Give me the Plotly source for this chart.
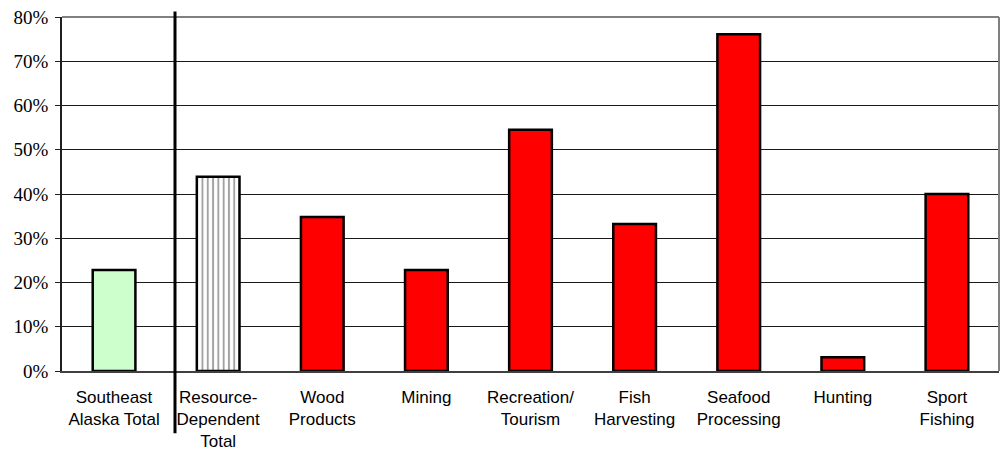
import plotly.graph_objects as go

categories = [
    "Southeast<br>Alaska Total",
    "Resource-<br>Dependent<br>Total",
    "Wood<br>Products",
    "Mining",
    "Recreation/<br>Tourism",
    "Fish<br>Harvesting",
    "Seafood<br>Processing",
    "Hunting",
    "Sport<br>Fishing",
]
values = [22.8, 43.9, 34.8, 22.8, 54.5, 33.2, 76.1, 3.1, 40.0]
y_ticks = [0, 10, 20, 30, 40, 50, 60, 70, 80]
y_tick_labels = [f"{v}%" for v in y_ticks]

fill_colors = ["#CCFFCC", "#FFFFFF"] + ["#FF0000"] * 7
patterns = [""] + ["|"] + [""] * 7

fig = go.Figure(
    go.Bar(
        x=categories,
        y=values,
        width=0.41,
        marker=dict(
            color=fill_colors,
            line=dict(color="#000000", width=2.5),
            pattern=dict(
                shape=patterns,
                fgcolor="#000000",
                bgcolor="#FFFFFF",
                size=5.3,
                solidity=0.36,
                fillmode="overlay",
            ),
        ),
    )
)

fig.update_layout(
    width=1003,
    height=452,
    margin=dict(l=62, r=4, t=17, b=81),
    paper_bgcolor="white",
    plot_bgcolor="white",
    showlegend=False,
    bargap=0.59,
    xaxis=dict(
        automargin=False,
        showgrid=False,
        showline=True,
        linecolor="#404040",
        linewidth=1.5,
        ticks="",
        ticklabelstandoff=10,
        tickfont=dict(family="Liberation Sans, Arial", size=17, color="black"),
    ),
    yaxis=dict(
        automargin=False,
        range=[0, 80],
        tickvals=y_ticks,
        ticktext=y_tick_labels,
        showgrid=True,
        gridcolor="#1a1a1a",
        gridwidth=1,
        showline=True,
        linecolor="#202020",
        linewidth=1.5,
        ticks="outside",
        ticklen=5,
        tickcolor="#202020",
        zeroline=False,
        ticklabelstandoff=3,
        tickfont=dict(family="Liberation Serif, Times New Roman", size=19, color="black"),
    ),
    shapes=[
        # grey frame along the top and right of the plotting area
        dict(type="line", xref="paper", yref="paper", x0=0, x1=1, y0=1, y1=1,
             line=dict(color="#808080", width=2)),
        dict(type="line", xref="paper", yref="paper", x0=1, x1=1, y0=0, y1=1,
             line=dict(color="#808080", width=2)),
        # divider between the overall total and the sector breakdown
        dict(type="line", xref="paper", yref="paper", x0=0.1206, x1=0.1206,
             y0=-0.176, y1=1.0156, line=dict(color="#000000", width=3)),
    ],
)

fig.write_html("out.html")
